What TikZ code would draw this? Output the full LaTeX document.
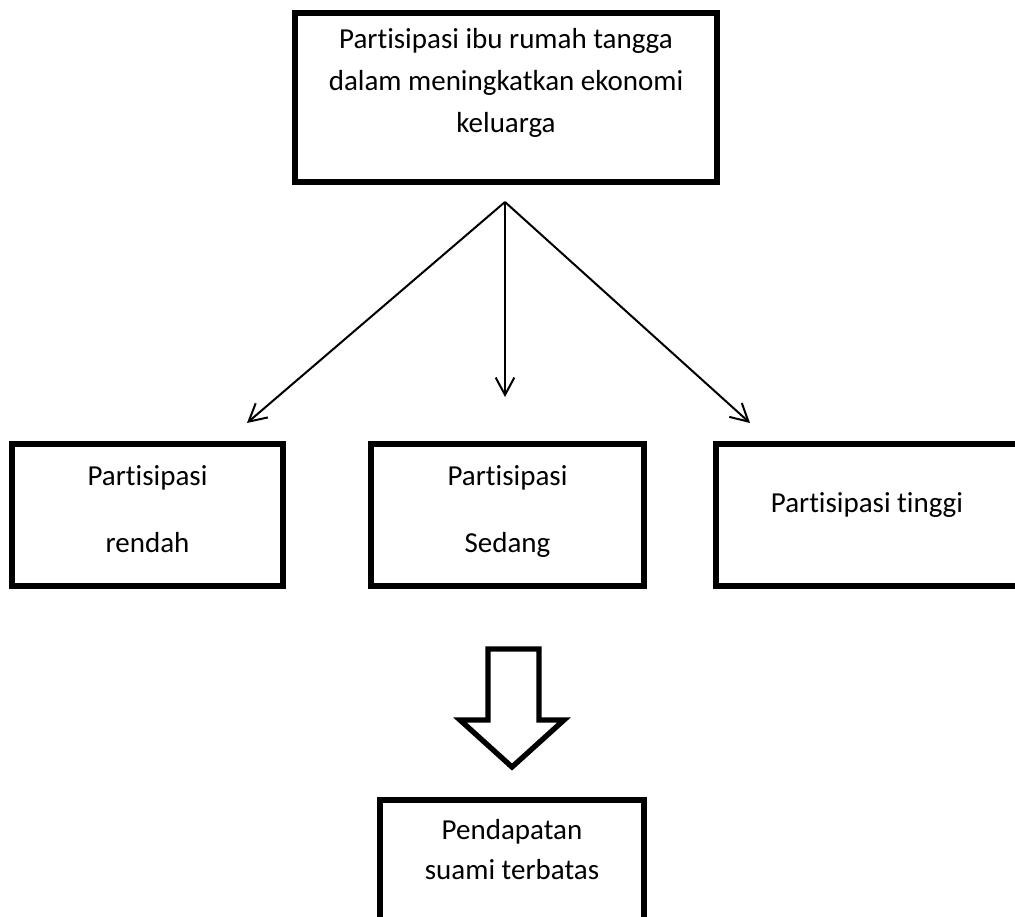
\documentclass[tikz,border=0pt]{standalone}
\usepackage{fontspec}
\setmainfont{Carlito}[Ligatures={NoCommon}]
\usetikzlibrary{arrows.meta}
\begin{document}
\begin{tikzpicture}[x=0.75pt,y=-0.75pt,
  box/.style={draw=black, line width=4.5pt, inner sep=0pt, line join=miter, fill=none},
  txt/.style={inner sep=0pt, align=center, font=\fontsize{21.75pt}{#1}\selectfont},
  conn/.style={draw=black, line width=1.5pt, -{Straight Barb[length=13pt,width=14pt,line width=1.5pt]}},
  blockarrow/.style={draw=black, line width=4pt, line join=miter, fill=white}]
\clip (0,0) rectangle (1015,917);
\fill[white] (0,0) rectangle (1015,917);
% top box
\node[box, minimum width=316.5pt, minimum height=126.75pt] (top) at (506,97.5) {};
\node[txt=31.5pt] (toptext) at (506,83) {Partisipasi ibu rumah tangga\\dalam meningkatkan ekonomi\\keluarga};
% middle row
\node[box, minimum width=203.25pt, minimum height=106.5pt] (low) at (147.5,515) {};
\node[txt=50.25pt] (lowtext) at (147.5,509) {Partisipasi\\rendah};
\node[box, minimum width=204.75pt, minimum height=106.5pt] (mid) at (507.5,515) {};
\node[txt=50.25pt] (midtext) at (507.5,512) {Partisipasi\\Sedang};
\node[box, minimum width=227.25pt, minimum height=106.5pt] (high) at (867,515) {};
\node[txt=31.5pt] (hightext) at (867,505.5) {Partisipasi tinggi};
% bottom box
\node[box, minimum width=198pt, minimum height=120pt] (res) at (512,880) {};
\node[txt=30pt] (restext) at (512,850) {Pendapatan\\suami terbatas};
% arrows
\coordinate (apex) at (505,202);
\coordinate (tipL) at (247,423);
\coordinate (tipM) at (505,397);
\coordinate (tipR) at (750,423);
\draw[conn] (apex) -- (tipL);
\draw[conn] (apex) -- (tipM);
\draw[conn] (apex) -- (tipR);
% block arrow
\draw[blockarrow] (488,649) -- (539,649) -- (539,720) -- (564,720) -- (512,767) -- (460,720) -- (488,720) -- cycle;
\end{tikzpicture}
\end{document}
